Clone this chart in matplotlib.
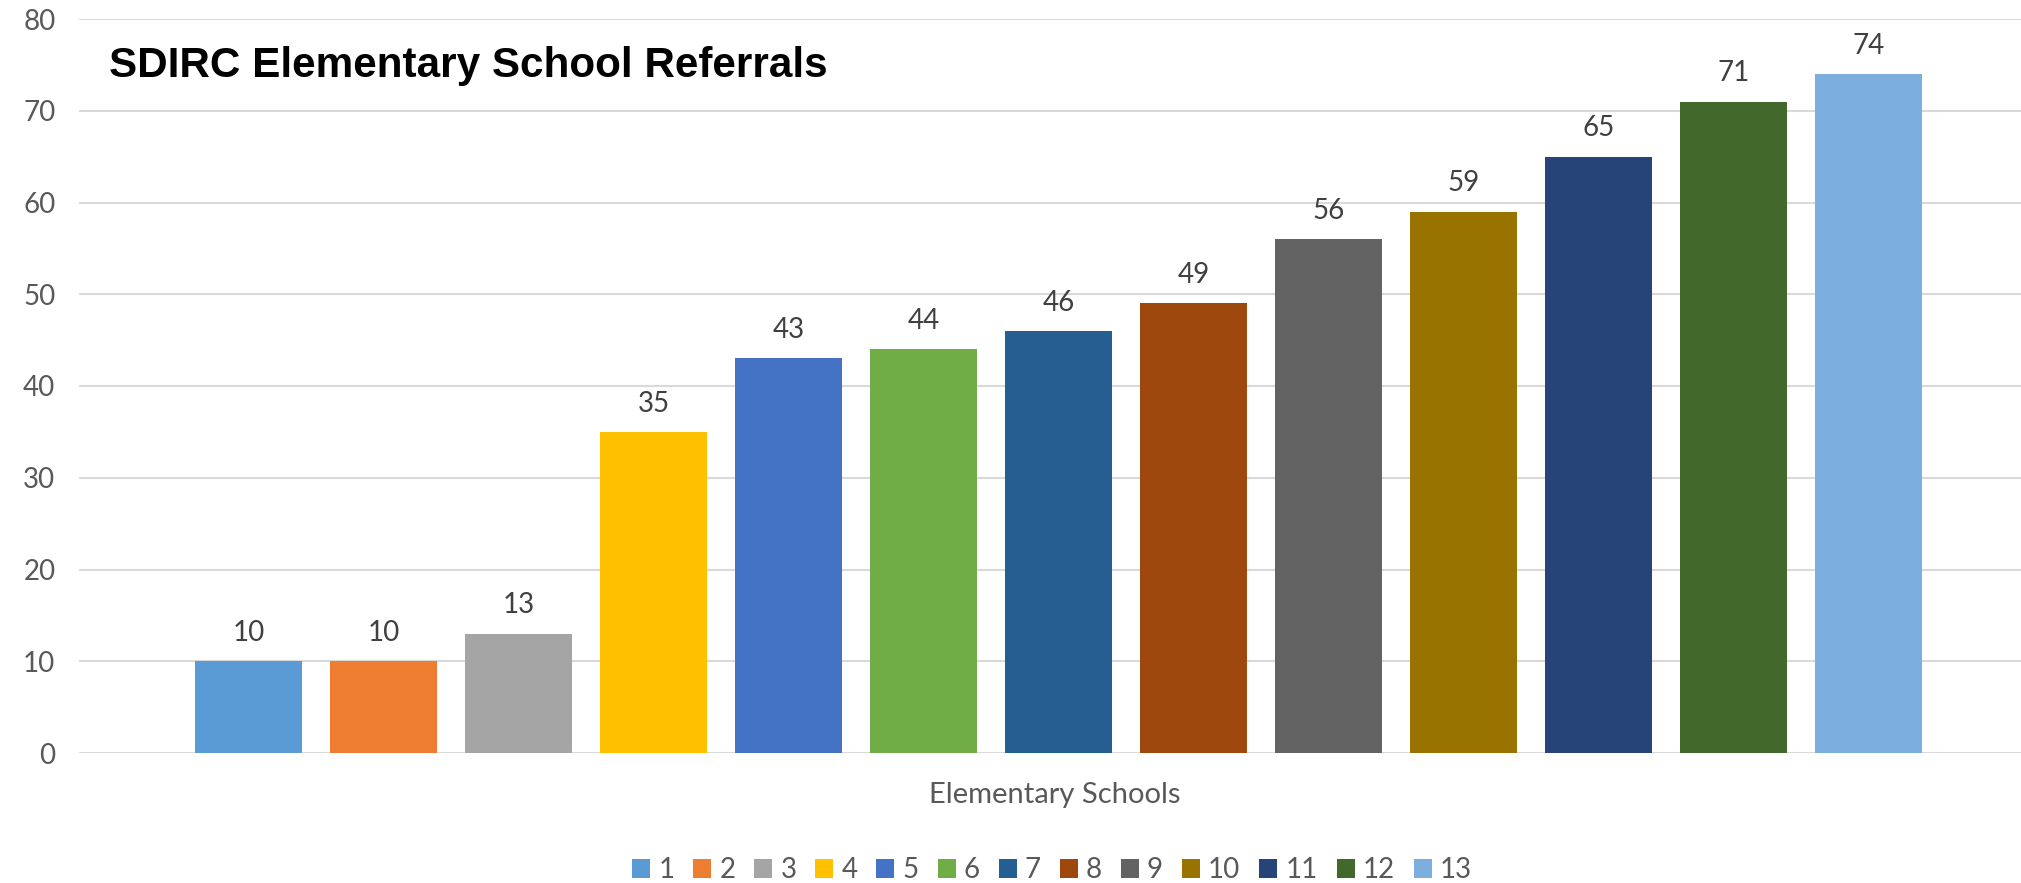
import matplotlib.pyplot as plt
from matplotlib.patches import Patch

# data
schools = ["1", "2", "3", "4", "5", "6", "7", "8", "9", "10", "11", "12", "13"]
referrals = [10, 10, 13, 35, 43, 44, 46, 49, 56, 59, 65, 71, 74]
colors = ["#5B9BD5", "#ED7D31", "#A5A5A5", "#FFC000", "#4472C4", "#70AD47",
          "#255E91", "#9E480E", "#636363", "#997300", "#264478", "#43682B",
          "#7CAFDD"]
yticks = [0, 10, 20, 30, 40, 50, 60, 70, 80]

plt.rcParams['font.family'] = ['Lato', 'DejaVu Sans']

W, H = 2021, 883
fig = plt.figure(figsize=(W / 100, H / 100), dpi=100)
ax = fig.add_axes([79 / W, 1 - 753 / H, 1 - 79 / W, (753 - 19) / H])

x = list(range(len(schools)))
bars = ax.bar(x, referrals, width=0.793, color=colors, zorder=3)
ax.bar_label(bars, labels=[str(v) for v in referrals], padding=11,
             fontsize=20, color="#404040")

ax.set_xlim(-1.256, 13.13)
ax.set_ylim(0, 80)
ax.set_yticks(yticks)
ax.set_xticks([])
ax.tick_params(axis="y", length=0, pad=17, labelsize=20, labelcolor="#595959")
ax.grid(axis="y", color="#D9D9D9", linewidth=1.5, zorder=0)
for s in ax.spines.values():
    s.set_visible(False)

fig.text(109 / W, 1 - 66 / H, "SDIRC Elementary School Referrals",
         fontsize=30.4, fontweight="bold", family="Liberation Sans",
         ha="left", va="center", color="black")
fig.text(1055 / W, 1 - 795 / H, "Elementary Schools", fontsize=21,
         color="#595959", ha="center", va="center")

handles = [Patch(facecolor=c) for c in colors]
fig.legend(handles, schools, loc="center", bbox_to_anchor=(1052 / W, 1 - 870 / H),
           ncol=len(schools), frameon=False, fontsize=20, labelcolor="#595959",
           handlelength=0.65, handleheight=0.65, handletextpad=0.29,
           columnspacing=0.68)

fig.savefig("out.png", dpi=100)
